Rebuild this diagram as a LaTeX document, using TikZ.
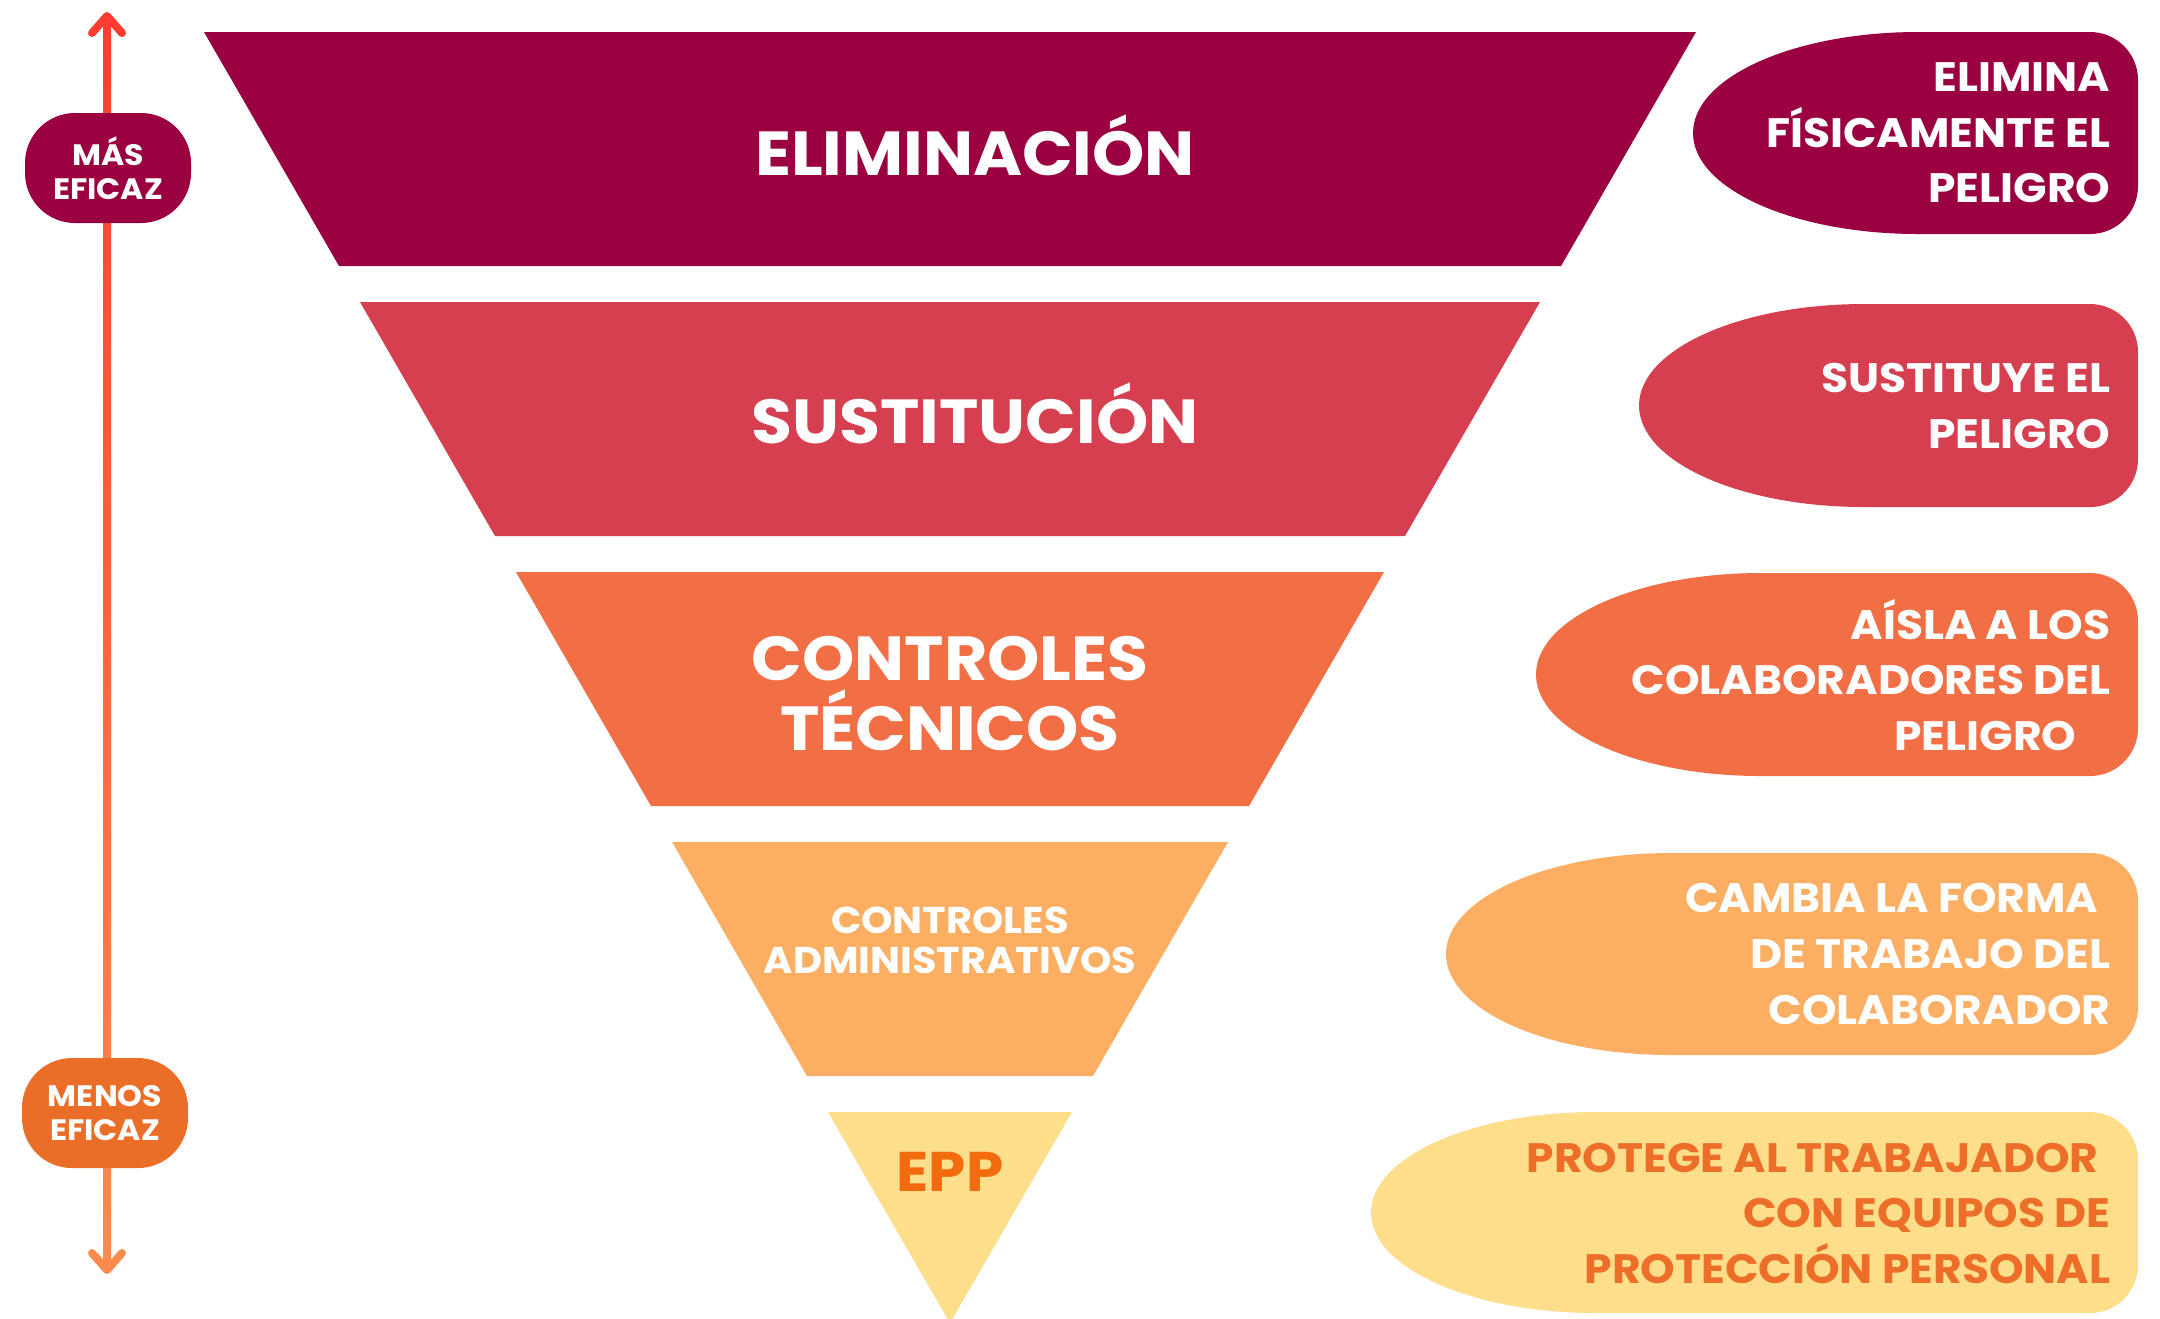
\documentclass[tikz,border=0pt]{standalone}
\usepackage{fontspec}
\setmainfont{Poppins}[FakeStretch=1.07]
\usetikzlibrary{positioning,calc,arrows.meta,backgrounds}

\definecolor{elim}{HTML}{9B0040}
\definecolor{sust}{HTML}{D63F50}
\definecolor{tecn}{HTML}{F26F45}
\definecolor{admi}{HTML}{FCAF63}
\definecolor{eppc}{HTML}{FDDE8A}
\definecolor{epptxt}{HTML}{F26B0F}
\definecolor{eppdesc}{HTML}{EC6E28}
\definecolor{menosc}{HTML}{EB6E28}
\definecolor{axred}{HTML}{FF3D30}
\definecolor{axorange}{HTML}{FF8A4C}

% bubble: colour, left x, top y, bottom y
\newcommand{\descbubble}[4]{%
  \fill[#1] (#2+2.25,#3) -- (20.90,#3) arc[start angle=90,end angle=0,radius=0.48]
    -- (21.38,#4+0.48) arc[start angle=0,end angle=-90,radius=0.48]
    -- (#2+2.25,#4) arc[start angle=270,end angle=90,x radius=2.25,y radius=#3/2-#4/2] -- cycle;}

\tikzset{
  bandlabel/.style={text=white, font=\bfseries\fontsize{17.7}{19.9}\selectfont, align=center, inner sep=0pt},
  desclabel/.style={text=white, font=\bfseries\fontsize{11.7}{15.8}\selectfont, align=right, inner sep=0pt, anchor=east},
  pill/.style={fill=#1, text=white, rounded corners=0.5cm, minimum width=1.66cm, minimum height=1.1cm, align=center, inner sep=0pt, font=\bfseries\fontsize{8.4}{9.7}\selectfont},
  axis/.style={line width=0.08cm, line cap=round, line join=round},
}

\begin{document}
\begin{tikzpicture}
	\useasboundingbox (0,0) rectangle (21.6,-13.18);

	% funnel
	\fill[elim] (2.04,-0.32) -- (16.96,-0.32) -- (15.61,-2.66) -- (3.39,-2.66) -- cycle;
	\fill[sust] (3.60,-3.02) -- (15.40,-3.02) -- (14.05,-5.36) -- (4.95,-5.36) -- cycle;
	\fill[tecn] (5.16,-5.72) -- (13.84,-5.72) -- (12.49,-8.06) -- (6.51,-8.06) -- cycle;
	\fill[admi] (6.72,-8.42) -- (12.28,-8.42) -- (10.93,-10.76) -- (8.07,-10.76) -- cycle;
	\fill[eppc] (8.28,-11.12) -- (10.72,-11.12) -- (9.50,-13.23) -- cycle;

	\node[bandlabel, anchor=base] (eliminacion) at (9.75,-1.75) {ELIMINACIÓN};
	\node[bandlabel, anchor=base] (sustitucion) at (9.75,-4.43) {SUSTITUCIÓN};
	\node[bandlabel] (tecnicos) at (9.50,-6.94) {CONTROLES\\TÉCNICOS};
	\node[bandlabel, font=\bfseries\fontsize{10.6}{11.4}\selectfont] (administrativos) at (9.50,-9.40) {CONTROLES\\ADMINISTRATIVOS};
	\node[bandlabel, anchor=base, text=epptxt, font=\bfseries\fontsize{15.9}{18}\selectfont] (epp) at (9.50,-11.91) {EPP};

	% descriptions
	\descbubble{elim}{16.93}{-0.32}{-2.34}
	\descbubble{sust}{16.39}{-3.04}{-5.07}
	\descbubble{tecn}{15.36}{-5.73}{-7.76}
	\descbubble{admi}{14.46}{-8.53}{-10.55}
	\descbubble{eppc}{13.71}{-11.12}{-13.13}

	\node[desclabel] (d1) at (21.11,-1.33) {ELIMINA\\FÍSICAMENTE EL\\PELIGRO};
	\node[desclabel] (d2) at (21.11,-4.06) {SUSTITUYE EL\\PELIGRO};
	\node[desclabel] (d3) at (21.11,-6.75) {AÍSLA A LOS\\COLABORADORES DEL\\PELIGRO\hspace*{0.34cm}};
	\node[desclabel] (d4) at (21.11,-9.54) {CAMBIA LA FORMA\hspace*{0.12cm}\\DE TRABAJO DEL\\COLABORADOR};
	\node[desclabel, text=eppdesc] (d5) at (21.11,-12.13) {PROTEGE AL TRABAJADOR\hspace*{0.12cm}\\CON EQUIPOS DE\hspace*{0.12cm}\\PROTECCIÓN PERSONAL};

	% scale
	\coordinate (axtop) at (1.07,-0.12);
	\coordinate (axbot) at (1.07,-12.74);
	\node[pill=elim] (mas) at (1.08,-1.68) {MÁS\\EFICAZ};
	\node[pill=menosc] (menos) at (1.05,-11.13) {MENOS\\EFICAZ};
	\begin{scope}[on background layer]
		\shade[top color=axred, bottom color=axorange] ($(axtop)+(-0.04,-0.2)$) rectangle ($(axbot)+(0.04,0.2)$);
		\draw[axis, axred, -{Straight Barb[round,length=0.17cm,width=0.30cm]}] ($(axtop)+(0,-0.3)$) -- (axtop);
		\draw[axis, axorange, -{Straight Barb[round,length=0.17cm,width=0.30cm]}] ($(axbot)+(0,0.3)$) -- (axbot);
	\end{scope}
\end{tikzpicture}
\end{document}
